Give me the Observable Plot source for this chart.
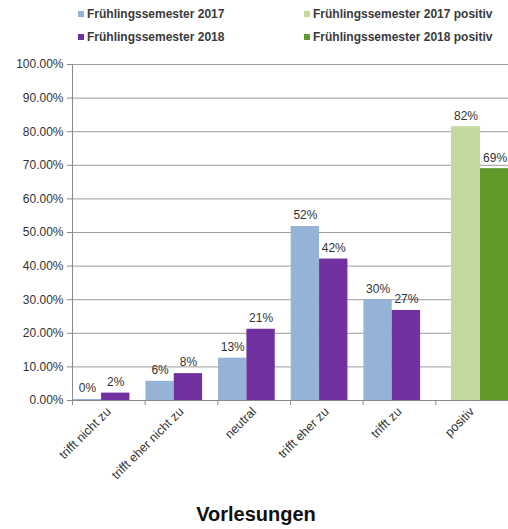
<!DOCTYPE html>
<html>
<head>
<meta charset="utf-8">
<script src="https://cdn.jsdelivr.net/npm/d3@7"></script>
<script src="https://cdn.jsdelivr.net/npm/@observablehq/plot@0.6"></script>
<style>
  html, body { margin: 0; padding: 0; background: #fff; }
  body { width: 508px; height: 529px; overflow: hidden; font-family: "Liberation Sans", Arial, sans-serif; color: #333; }
  #legend { position: relative; height: 50px; font-size: 12px; font-weight: bold; color: #3a3a3a; }
  .item { position: absolute; display: flex; align-items: center; white-space: nowrap; }
  .sw { width: 6px; height: 6px; margin-right: 3px; display: inline-block; }
  #chart { height: 450px; }
  #chart svg { overflow: visible; }
  #title { height: 29px; text-align: center; font-size: 20px; font-weight: bold; color: #111; line-height: 29px; margin-left: 4px; }
</style>
</head>
<body>
<div id="legend"></div>
<div id="chart"></div>
<div id="title">Vorlesungen</div>
<script>
const categories = ["trifft nicht zu", "trifft eher nicht zu", "neutral", "trifft eher zu", "trifft zu", "positiv"];
const values2017 = [0.3, 5.7, 12.6, 51.8, 30.0, 81.5];
const values2018 = [2.2, 8.0, 21.2, 42.1, 26.8, 69.0];
const seriesNames = ["Frühlingssemester 2017", "Frühlingssemester 2018", "Frühlingssemester 2017 positiv", "Frühlingssemester 2018 positiv"];
const seriesColors = ["#95b3d7", "#7030a0", "#c4d9a0", "#5f9a2b"];
const yTicks = [0, 10, 20, 30, 40, 50, 60, 70, 80, 90, 100];

// legend
const legend = document.getElementById("legend");
const legendPos = [[78, 15], [78, 38], [304, 15], [304, 38]];
seriesNames.forEach((name, k) => {
  const el = document.createElement("div");
  el.className = "item";
  el.style.left = legendPos[k][0] + "px";
  el.style.top = (legendPos[k][1] - 8) + "px";
  el.innerHTML = `<span class="sw" style="background:${seriesColors[k]}"></span><span>${name}</span>`;
  legend.appendChild(el);
});

// rows
const rows = [];
categories.forEach((c, i) => {
  const pos = c === "positiv";
  [values2017[i], values2018[i]].forEach((v, j) => {
    const start = pos ? 0.215 + j * 0.4 : 0.01 + j * 0.39;
    const w = pos ? 0.4 : 0.39;
    rows.push({cat: c, x1: i + start, x2: i + start + w, value: v, color: seriesColors[(pos ? 2 : 0) + j]});
  });
});

const chart = Plot.plot({
  width: 508,
  height: 450,
  marginLeft: 72,
  marginRight: 0,
  marginTop: 14,
  marginBottom: 100,
  style: {fontFamily: "'Liberation Sans', Arial, sans-serif", background: "transparent"},
  x: {domain: [0, 6], axis: null},
  y: {domain: [0, 100], axis: null},
  marks: [
    Plot.gridY(yTicks.slice(1), {stroke: "#9c9c9c", strokeOpacity: 1}),
    Plot.axisY({ticks: yTicks, tickFormat: d => d.toFixed(2) + "%", tickSize: 5, tickPadding: 4, stroke: "#888", fill: "#333", fontSize: 12, label: null}),
    Plot.rect(rows, {x1: "x1", x2: "x2", y1: 0, y2: "value", fill: "color"}),
    Plot.ruleX([0], {stroke: "#8a8a8a"}),
    Plot.ruleY([0], {stroke: "#8a8a8a"}),
    Plot.axisX({ticks: d3.range(0, categories.length + 1), tickFormat: () => "", tickSize: 5, stroke: "#8a8a8a", label: null}),
    Plot.axisX({ticks: categories.map((c, i) => i + 0.5), tickFormat: d => categories[Math.floor(d)], tickSize: 0, tickPadding: 9, tickRotate: -45, fontSize: 12.5, fill: "#333", label: null}),
    Plot.text(rows, {x: d => (d.x1 + d.x2) / 2, y: "value", text: d => Math.round(d.value) + "%", dy: -11, fontSize: 12, fill: "#333"})
  ]
});
document.getElementById("chart").appendChild(chart);
</script>
</body>
</html>
